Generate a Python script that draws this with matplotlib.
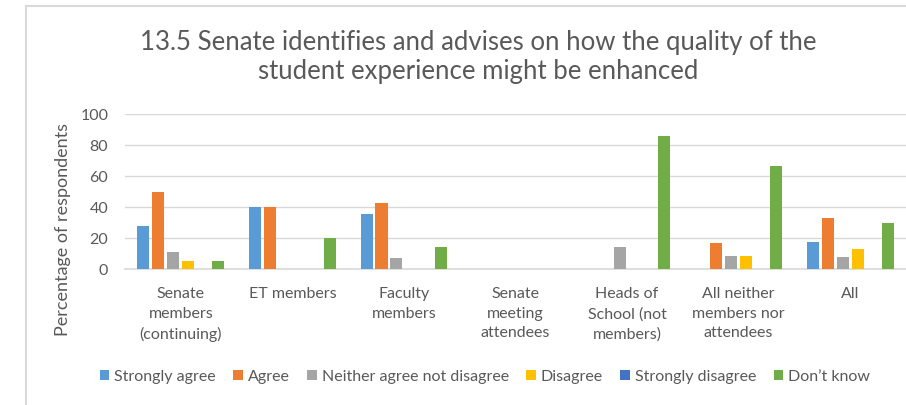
import matplotlib
matplotlib.use("Agg")
import matplotlib.pyplot as plt
import numpy as np
from matplotlib.patches import Patch
from matplotlib.lines import Line2D

plt.rcParams['font.family'] = ['Lato', 'DejaVu Sans']

categories = ["Senate\nmembers\n(continuing)", "ET members", "Faculty\nmembers",
              "Senate\nmeeting\nattendees", "Heads of\nSchool (not\nmembers)",
              "All neither\nmembers nor\nattendees", "All"]
series_names = ["Strongly agree", "Agree", "Neither agree not disagree",
                "Disagree", "Strongly disagree", "Don\u2019t know"]
strongly_agree = [27.8, 40, 35.7, 0, 0, 0, 17.8]
agree = [50.0, 40, 42.9, 0, 0, 16.7, 32.8]
neither = [11.1, 0, 7.1, 0, 14.3, 8.3, 7.7]
disagree = [5.6, 0, 0, 0, 0, 8.3, 12.9]
strongly_disagree = [0, 0, 0, 0, 0, 0, 0]
dont_know = [5.6, 20, 14.3, 0, 85.7, 66.7, 29.8]
yticks = [0, 20, 40, 60, 80, 100]

values = [strongly_agree, agree, neither, disagree, strongly_disagree, dont_know]
colors = ["#5B9BD5", "#ED7D31", "#A5A5A5", "#FFC000", "#4472C4", "#70AD47"]
text_color = "#595959"

fig = plt.figure(figsize=(9.06, 4.05), dpi=100)
ax = fig.add_axes([125/906, 1-269.3/405, (906-125)/906, (269.3-114)/405])

x = np.arange(len(categories))
bw = 0.108
step = 0.134
for j, (vals, c) in enumerate(zip(values, colors)):
    ax.bar(x + (j-2.5)*step, vals, width=bw, color=c, zorder=3, label=series_names[j])

ax.set_xlim(-0.5, len(categories)-0.5)
ax.set_ylim(0, 100)
ax.set_yticks(yticks)
ax.set_yticklabels([str(t) for t in yticks], fontsize=11.5, color=text_color)
ax.yaxis.grid(True, color="#D9D9D9", linewidth=1, zorder=0)
ax.set_xticks(x)
ax.set_xticklabels(categories, fontsize=11.5, color=text_color, linespacing=1.5)
ax.tick_params(axis='both', length=0)
ax.tick_params(axis='y', pad=12)
ax.tick_params(axis='x', pad=13)
for s in ['top', 'right', 'left']:
    ax.spines[s].set_visible(False)
ax.spines['bottom'].set_color("#D9D9D9")
ax.spines['bottom'].set_linewidth(1.2)

fig.text(63/906, 1-230/405, "Percentage of respondents", rotation=90,
         ha='center', va='center', fontsize=13, color=text_color)

fig.text(478/906, 1-57/405,
         "13.5 Senate identifies and advises on how the quality of the\nstudent experience might be enhanced",
         ha='center', va='center', fontsize=18.5, color=text_color, linespacing=1.2)

handles = [Patch(facecolor=c, edgecolor='none') for c in colors]
fig.legend(handles, series_names, loc='center', bbox_to_anchor=(485/906, 1-377/405),
           ncol=6, frameon=False, fontsize=11.5, handlelength=0.6, handleheight=0.6,
           handletextpad=0.3, columnspacing=1.1, labelcolor=text_color)

fig.add_artist(Line2D([26/906, 26/906], [0, 1-6/405], transform=fig.transFigure,
                      color="#D9D9D9", linewidth=1.5))
fig.add_artist(Line2D([26/906, 1], [1-6/405, 1-6/405], transform=fig.transFigure,
                      color="#D9D9D9", linewidth=1.5))

fig.savefig("out.png", dpi=100)
